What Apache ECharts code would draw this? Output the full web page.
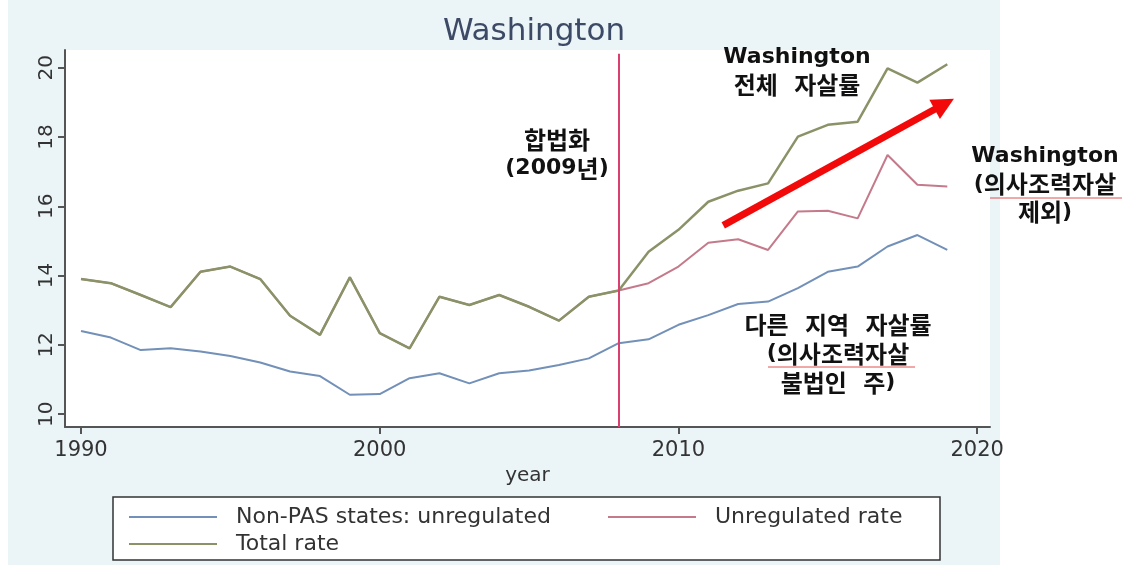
<!DOCTYPE html>
<html>
<head>
<meta charset="utf-8">
<script src="https://cdn.jsdelivr.net/npm/echarts@6/dist/echarts.min.js"></script>
<style>
  html, body { margin: 0; padding: 0; background: #fff; }
  #chart { width: 1128px; height: 565px; }
</style>
</head>
<body>
<div id="chart"></div>
<script>
// 연도
const years = [1990, 1991, 1992, 1993, 1994, 1995, 1996, 1997, 1998, 1999,
  2000, 2001, 2002, 2003, 2004, 2005, 2006, 2007, 2008, 2009,
  2010, 2011, 2012, 2013, 2014, 2015, 2016, 2017, 2018, 2019]

const nonPas = [12.40, 12.21, 11.85, 11.90, 11.81, 11.68, 11.49, 11.23, 11.10, 10.56,
  10.58, 11.04, 11.18, 10.89, 11.18, 11.26, 11.42, 11.61, 12.05, 12.16,
  12.58, 12.86, 13.18, 13.25, 13.64, 14.11, 14.26, 14.84, 15.17, 14.74]

const totalRate = [13.90, 13.78, 13.44, 13.09, 14.11, 14.26, 13.90, 12.84, 12.29, 13.95,
  12.34, 11.90, 13.39, 13.15, 13.44, 13.10, 12.70, 13.39, 13.57, 14.69,
  15.32, 16.13, 16.45, 16.66, 18.01, 18.35, 18.44, 19.98, 19.57, 20.10]

const unregulated = [13.90, 13.78, 13.44, 13.09, 14.11, 14.26, 13.90, 12.84, 12.29, 13.95,
  12.34, 11.90, 13.39, 13.15, 13.44, 13.10, 12.70, 13.39, 13.57, 13.78,
  14.26, 14.95, 15.05, 14.74, 15.85, 15.87, 15.65, 17.48, 16.62, 16.57]

const xTicks = [1990, 2000, 2010, 2020]
const yTicks = [10, 12, 14, 16, 18, 20]
const legalYear = 2008

const pair = (arr) => years.map((y, i) => [y, arr[i]])

const font = 'DejaVu Sans, Noto Sans CJK KR, sans-serif'

// 한글 부분만 조금 크게
const richKo = (text) => text.replace(/([\uac00-\ud7a3][\uac00-\ud7a3 ]*[\uac00-\ud7a3]|[\uac00-\ud7a3])/g, '{k|$1}')

const note = (x, y, text, lh) => ({
  type: 'text', x: x, y: y, z: 10,
  style: {
    text: richKo(text), fontFamily: font, fontWeight: 'bold', fontSize: 22, lineHeight: lh,
    fill: '#111', align: 'center', verticalAlign: 'top',
    rich: { k: { fontFamily: 'Noto Sans CJK KR', fontWeight: 'bold', fontSize: 24, lineHeight: lh, fill: '#111' } }
  }
})

const option = {
  backgroundColor: '#fff',
  animation: false,
  title: {
    text: 'Washington',
    left: 529,
    top: 11,
    textAlign: 'center',
    textStyle: { fontFamily: font, fontWeight: 'normal', fontSize: 31, color: '#3d4a66' }
  },
  grid: {
    left: 65, right: 138, top: 50, bottom: 138,
    show: true, backgroundColor: '#fff', borderWidth: 0
  },
  legend: [
    {
      data: ['Non-PAS states: unregulated', 'Total rate'],
      orient: 'vertical',
      left: 124, top: 501,
      itemWidth: 88, itemHeight: 2, itemGap: 5,
      icon: 'rect',
      textStyle: { fontFamily: font, fontSize: 22, color: '#333', padding: [0, 0, 0, 14] }
    },
    {
      data: ['Unregulated rate'],
      orient: 'vertical',
      left: 603, top: 501,
      itemWidth: 88, itemHeight: 2,
      icon: 'rect',
      textStyle: { fontFamily: font, fontSize: 22, color: '#333', padding: [0, 0, 0, 14] }
    }
  ],
  xAxis: {
    type: 'value',
    min: 1989.464, max: 2020.43,
    name: 'year', nameLocation: 'middle', nameGap: 38,
    nameTextStyle: { fontFamily: font, fontSize: 20, color: '#333' },
    splitLine: { show: false },
    axisLine: { lineStyle: { color: '#555', width: 2 } },
    axisTick: { customValues: xTicks, length: 7, lineStyle: { color: '#555', width: 2 } },
    axisLabel: { customValues: xTicks, formatter: (v) => String(v), fontFamily: font, fontSize: 21, color: '#333', margin: 13 }
  },
  yAxis: {
    type: 'value',
    min: 9.63, max: 20.51,
    splitLine: { show: false },
    axisLine: { show: true, lineStyle: { color: '#555', width: 2 } },
    axisTick: { show: true, customValues: yTicks, length: 7, lineStyle: { color: '#555', width: 2 } },
    axisLabel: { customValues: yTicks, rotate: 90, fontFamily: font, fontSize: 20, color: '#333', margin: 8 }
  },
  series: [
    {
      name: 'Total rate',
      type: 'line',
      data: pair(totalRate),
      showSymbol: false,
      lineStyle: { color: '#8a9268', width: 2.5 },
      itemStyle: { color: '#8a9268' },
      z: 3
    },
    {
      name: 'Unregulated rate',
      type: 'line',
      data: pair(unregulated),
      showSymbol: false,
      lineStyle: { color: '#c47a8a', width: 2 },
      itemStyle: { color: '#c47a8a' },
      z: 2,
      markLine: {
        silent: true,
        symbol: 'none',
        label: { show: false },
        lineStyle: { color: '#d9406f', width: 2, type: 'solid' },
        data: [
          [{ coord: [legalYear, 20.4] }, { coord: [legalYear, 9.63] }]
        ]
      }
    },
    {
      name: 'Non-PAS states: unregulated',
      type: 'line',
      data: pair(nonPas),
      showSymbol: false,
      lineStyle: { color: '#7290b8', width: 2 },
      itemStyle: { color: '#7290b8' },
      z: 2,
      markLine: {
        silent: true,
        symbol: ['none', 'triangle'],
        symbolSize: [22, 22],
        label: { show: false },
        lineStyle: { color: '#f20a0a', width: 7, type: 'solid', opacity: 1 },
        data: [
          [{ coord: [2011.5, 15.45] }, { coord: [2018.9, 18.95] }]
        ]
      }
    }
  ],
  graphic: [
    // 바깥 배경
    { type: 'rect', z: -10, shape: { x: 8, y: 0, width: 992, height: 565 }, style: { fill: '#ebf4f7' } },
    // 범례 상자
    { type: 'rect', z: -1, shape: { x: 113, y: 497, width: 827, height: 63 }, style: { fill: '#fff', stroke: '#333', lineWidth: 1.5 } },
    note(557, 125, '합법화\n(2009년)', 29),
    note(797, 44, 'Washington\n전체   자살률', 27),
    note(1045, 142, 'Washington\n(의사조력자살\n제외)', 28),
    note(838, 310, '다른   지역   자살률\n(의사조력자살\n불법인   주)', 29),
    // 맞춤법 밑줄
    { type: 'line', z: 10, shape: { x1: 990, y1: 198, x2: 1122, y2: 198 }, style: { stroke: '#e05050', lineWidth: 1 } },
    { type: 'line', z: 10, shape: { x1: 768, y1: 367, x2: 915, y2: 367 }, style: { stroke: '#e05050', lineWidth: 1 } }
  ]
}

const chart = echarts.init(document.getElementById('chart'))
chart.setOption(option)
</script>
</body>
</html>
